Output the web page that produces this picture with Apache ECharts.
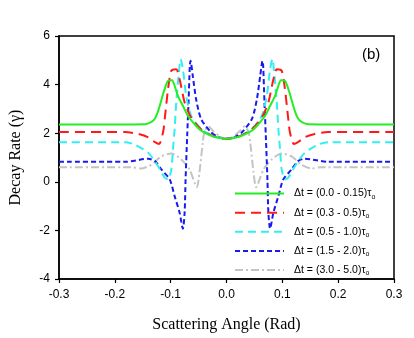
<!DOCTYPE html>
<html>
<head>
<meta charset="utf-8">
<script src="https://cdn.jsdelivr.net/npm/echarts@6/dist/echarts.min.js"></script>
<style>html,body{margin:0;padding:0;background:#fff;}#c{width:414px;height:338px;}</style>
</head>
<body>
<div id="c"></div>
<script>
var xTicks = [-0.3, -0.2, -0.1, 0.0, 0.1, 0.2, 0.3];
var seriesNames = ['Δt = (0.0 - 0.15)', 'Δt = (0.3 - 0.5)', 'Δt = (0.5 - 1.0)', 'Δt = (1.5 - 2.0)', 'Δt = (3.0 - 5.0)'];

var xGreen = [-0.3, -0.2, -0.146, -0.131, -0.1255, -0.1195, -0.1136, -0.1077, -0.1047, -0.0976, -0.0929, -0.087, -0.0781, -0.0692, -0.0574, -0.0456, -0.0278, -0.015, 0,
              0.015, 0.0278, 0.0456, 0.0574, 0.0692, 0.0781, 0.087, 0.0929, 0.0976, 0.1047, 0.1077, 0.1136, 0.1195, 0.1255, 0.131, 0.146, 0.2, 0.3];
var yGreen = [2.36, 2.36, 2.37, 2.52, 2.72, 3.13, 3.61, 4.02, 4.16, 4.18, 3.95, 3.54, 3.13, 2.72, 2.38, 2.11, 1.90, 1.81, 1.77,
              1.81, 1.90, 2.11, 2.38, 2.72, 3.13, 3.54, 3.95, 4.18, 4.16, 4.02, 3.61, 3.13, 2.72, 2.52, 2.37, 2.36, 2.36];

var xRed = [-0.3, -0.182, -0.158, -0.140, -0.128, -0.1207, -0.1136, -0.1106, -0.1047, -0.0988, -0.090, -0.084, -0.075, -0.0634, -0.045, -0.028, -0.015, 0,
            0.015, 0.028, 0.045, 0.0634, 0.075, 0.084, 0.090, 0.0988, 0.1047, 0.1106, 0.1136, 0.1207, 0.128, 0.140, 0.158, 0.182, 0.3];
var yRed = [2.05, 2.05, 1.97, 1.83, 1.63, 1.56, 2.04, 2.59, 3.81, 4.57, 4.63, 4.22, 3.27, 2.65, 2.15, 1.92, 1.81, 1.77,
            1.81, 1.92, 2.15, 2.65, 3.27, 4.22, 4.63, 4.57, 3.81, 2.59, 2.04, 1.56, 1.63, 1.83, 1.97, 2.05, 2.05];

var xCyan = [-0.3, -0.182, -0.164, -0.140, -0.1225, -0.1106, -0.1047, -0.0988, -0.0959, -0.0929, -0.090, -0.0858, -0.0822, -0.0781, -0.0722, -0.0634, -0.0456, -0.028, -0.015, 0,
             0.015, 0.028, 0.0456, 0.0634, 0.0722, 0.0781, 0.0822, 0.0858, 0.090, 0.0929, 0.0959, 0.0988, 0.1047, 0.1106, 0.1225, 0.140, 0.164, 0.182, 0.3];
var yCyan = [1.63, 1.63, 1.53, 1.19, 0.64, 0.17, 0.10, 0.51, 1.33, 2.18, 3.27, 4.36, 5.05, 4.64, 3.54, 2.72, 2.18, 1.93, 1.82, 1.77,
             1.82, 1.93, 2.18, 2.72, 3.54, 4.64, 5.05, 4.36, 3.27, 2.18, 1.33, 0.51, 0.10, 0.17, 0.64, 1.19, 1.53, 1.63, 1.63];

var xBlue = [-0.3, -0.182, -0.140, -0.128, -0.1166, -0.1017, -0.0929, -0.084, -0.0781, -0.075, -0.0733, -0.0704, -0.068, -0.0657, -0.0645, -0.0604, -0.0545, -0.0456, -0.0278, -0.015, 0,
             0.015, 0.0278, 0.0456, 0.0545, 0.0604, 0.0645, 0.0657, 0.068, 0.0704, 0.0733, 0.075, 0.0781, 0.084, 0.0929, 0.1017, 0.1166, 0.128, 0.140, 0.182, 0.3];
var yBlue = [0.82, 0.82, 0.95, 0.85, 0.51, 0.10, -0.59, -1.27, -1.93, -1.27, 0.10, 1.90, 3.27, 4.77, 4.98, 4.36, 3.41, 2.59, 2.04, 1.85, 1.77,
             1.85, 2.04, 2.59, 3.41, 4.36, 4.98, 4.77, 3.27, 1.90, 0.10, -1.27, -1.93, -1.27, -0.59, 0.10, 0.51, 0.85, 0.95, 0.82, 0.82];

var xGray = [-0.3, -0.17, -0.152, -0.134, -0.1166, -0.0988, -0.081, -0.0663, -0.053, -0.0485, -0.0426, -0.0396, -0.0325, -0.0249, -0.010, 0,
             0.010, 0.0249, 0.0325, 0.0396, 0.0426, 0.0485, 0.053, 0.0663, 0.081, 0.0988, 0.1166, 0.134, 0.152, 0.17, 0.3];
var yGray = [0.60, 0.60, 0.55, 0.71, 1.05, 1.16, 0.92, 0.51, -0.22, 0.37, 1.60, 2.04, 2.29, 2.11, 1.83, 1.77,
             1.83, 2.11, 2.29, 2.04, 1.60, 0.37, -0.22, 0.51, 0.92, 1.16, 1.05, 0.71, 0.55, 0.60, 0.60];

function pairs(xs, ys) { return xs.map(function (x, i) { return [x, ys[i]]; }); }

var styles = [
  {color: '#22ee22', type: 'solid', width: 2},
  {color: '#ff1a1a', type: [10, 6], width: 2},
  {color: '#33eeee', type: [8, 5], width: 2},
  {color: '#1a1aee', type: [5, 3], width: 2},
  {color: '#c4c4c4', type: [8, 3, 2, 3], width: 2}
];
var dataSets = [pairs(xGreen, yGreen), pairs(xRed, yRed), pairs(xCyan, yCyan), pairs(xBlue, yBlue), pairs(xGray, yGray)];

var chart = echarts.init(document.getElementById('c'), null, {renderer: 'canvas'});
chart.setOption({
  animation: false,
  backgroundColor: '#fff',
  grid: {left: 56, right: 20, top: 36, bottom: 58, show: true, borderColor: '#000', borderWidth: 1.5},
  xAxis: {
    type: 'value', min: -0.3, max: 0.3, interval: 0.1,
    name: 'Scattering Angle (Rad)', nameLocation: 'middle', nameGap: 38,
    nameTextStyle: {fontFamily: 'Liberation Serif', fontSize: 16, color: '#000'},
    axisLine: {show: true, onZero: false, lineStyle: {color: '#000', width: 1.5}},
    axisTick: {show: true, inside: false, length: 4, lineStyle: {color: '#000', width: 1.2}},
    axisLabel: {margin: 10, fontFamily: 'Liberation Sans', fontSize: 12, color: '#000',
      formatter: function (v) { return v.toFixed(1); }},
    splitLine: {show: false}
  },
  yAxis: {
    type: 'value', min: -4, max: 6, interval: 2,
    name: 'Decay Rate (γ)', nameLocation: 'middle', nameGap: 35,
    nameTextStyle: {fontFamily: 'Liberation Serif', fontSize: 16, color: '#000'},
    axisLine: {show: true, onZero: false, lineStyle: {color: '#000', width: 1.5}},
    axisTick: {show: true, inside: false, length: 4, lineStyle: {color: '#000', width: 1.2}},
    axisLabel: {margin: 9, fontFamily: 'Liberation Sans', fontSize: 12, color: '#000'},
    splitLine: {show: false}
  },
  legend: {
    orient: 'vertical', left: 234, top: 188, padding: 0, itemWidth: 49, itemHeight: 14, itemGap: 7,
    itemStyle: {opacity: 0},
    textStyle: {fontFamily: 'Liberation Sans', fontSize: 10.5, color: '#000', padding: [0, 0, 0, 5],
      rich: {sub: {fontFamily: 'Liberation Sans', fontSize: 7, color: '#000', padding: [6, 0, 0, 0]}}},
    formatter: function (n) { return n + 'τ{sub|o}'; },
    data: seriesNames
  },
  graphic: [{type: 'text', left: 362, top: 47, style: {text: '(b)', font: '15px "Liberation Sans"', fill: '#000'}}],
  series: seriesNames.map(function (n, i) {
    return {
      name: n, type: 'line', data: dataSets[i], showSymbol: false, symbol: 'none', smooth: 0.25,
      lineStyle: styles[i], itemStyle: {color: styles[i].color}, z: 5 - i
    };
  })
});
</script>
</body>
</html>
